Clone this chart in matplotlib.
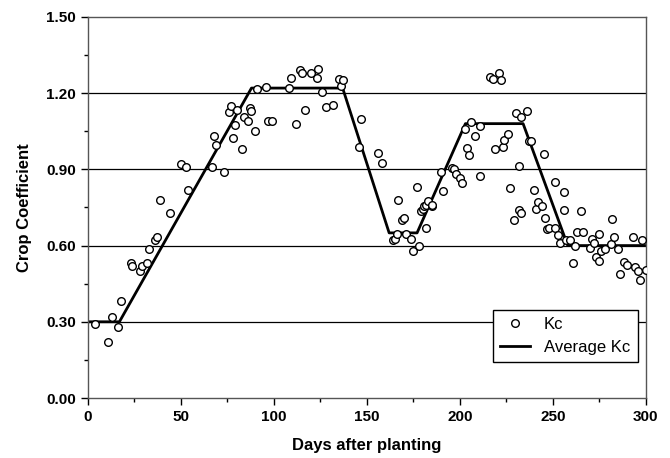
import numpy as np
import matplotlib.pyplot as plt

plt.rcParams['font.family'] = ['Liberation Sans', 'DejaVu Sans']

# ===================== DATA =====================
kc_days = [4, 11, 13, 16, 18, 23, 24, 28, 29, 32, 33, 36, 37, 39, 44,
           50, 53, 54, 67, 68, 69, 73, 76, 77, 78, 79, 80, 83, 84, 86, 87, 88,
           90, 91, 96, 97, 99, 108, 109, 112, 114, 115, 117, 120, 123, 124,
           126, 128, 132, 135, 136, 137, 146, 147, 156, 158, 164, 165, 166,
           167, 169, 170, 171, 174, 175, 177, 178, 179, 180, 181, 182, 182,
           183, 185, 185, 190, 191, 196, 197, 198, 200, 201, 203, 204, 205,
           206, 208, 211, 211, 216, 218, 219, 221, 222, 223, 224, 226, 227,
           229, 230, 232, 232, 233, 233, 236, 237, 238, 240, 241, 242, 244,
           245, 246, 247, 248, 251, 251, 253, 254, 256, 256, 257, 259, 261,
           262, 263, 265, 266, 270, 271, 272, 273, 275, 275, 276, 278, 281,
           282, 283, 285, 286, 288, 290, 293, 294, 296, 297, 298, 300]
kc_values = [0.29, 0.22, 0.32, 0.28, 0.38, 0.53, 0.52, 0.50, 0.52, 0.53,
             0.585, 0.62, 0.635, 0.78, 0.73,
             0.92, 0.91, 0.82, 0.91, 1.03, 0.995, 0.89, 1.125, 1.15, 1.025,
             1.075, 1.135, 0.98, 1.105, 1.09, 1.14, 1.13,
             1.05, 1.215, 1.225, 1.09, 1.09, 1.22, 1.26, 1.08, 1.29, 1.28,
             1.135, 1.28, 1.26, 1.295,
             1.205, 1.145, 1.155, 1.255, 1.23, 1.25, 0.99, 1.10, 0.965, 0.925,
             0.62, 0.625, 0.645, 0.78, 0.70, 0.71, 0.645, 0.625, 0.58, 0.83,
             0.60, 0.735, 0.745, 0.755, 0.76, 0.67,
             0.775, 0.755, 0.76, 0.89, 0.815, 0.905, 0.90, 0.88, 0.865, 0.845,
             1.06, 0.985, 0.955, 1.085, 1.03, 1.07, 0.875, 1.265, 1.255,
             0.98, 1.28, 1.25, 0.99, 1.015, 1.04, 0.825,
             0.70, 1.12, 0.915, 0.74, 1.105, 0.73, 1.13, 1.01, 1.01, 0.82,
             0.745, 0.77, 0.755,
             0.96, 0.71, 0.665, 0.67, 0.85, 0.67, 0.64, 0.61, 0.81, 0.74,
             0.62, 0.62, 0.53, 0.60, 0.655, 0.735, 0.655, 0.59, 0.625, 0.61,
             0.555, 0.645, 0.54, 0.58, 0.585, 0.605, 0.705, 0.635, 0.585,
             0.49, 0.535, 0.525, 0.635, 0.515, 0.50, 0.465, 0.62, 0.505]

avg_days = [0, 17, 88, 137, 162, 177, 203, 234, 258, 300]
avg_kc = [0.30, 0.30, 1.22, 1.22, 0.65, 0.65, 1.08, 1.08, 0.60, 0.60]

y_gridlines = [0.30, 0.60, 0.90, 1.20]

# ===================== PLOT =====================
fig = plt.figure(figsize=(6.70, 4.58), dpi=100)
ax = fig.add_axes([0.131, 0.131, 0.833, 0.832])

for g in y_gridlines:
    ax.axhline(g, color="black", linewidth=0.9, zorder=1)

ax.plot(avg_days, avg_kc, color="black", linewidth=2.0, label="Average Kc", zorder=2)
ax.plot(kc_days, kc_values, linestyle="none", marker="o", markersize=5.5,
        markerfacecolor="white", markeredgecolor="black", markeredgewidth=1.0,
        label="Kc", zorder=3)

ax.set_xlim(0, 300)
ax.set_ylim(0, 1.5)
ax.set_xticks(np.arange(0, 301, 50))
ax.set_xticks(np.arange(0, 301, 25), minor=True)
ax.set_yticks(np.arange(0, 1.51, 0.30))
ax.set_yticks(np.arange(0, 1.51, 0.15), minor=True)
ax.set_yticklabels([f"{v:.2f}" for v in np.arange(0, 1.51, 0.30)])

ax.tick_params(axis="both", which="major", direction="out", length=5, width=1,
               labelsize=11, colors="black")
ax.tick_params(axis="both", which="minor", direction="out", length=3, width=1)
for lbl in ax.get_xticklabels() + ax.get_yticklabels():
    lbl.set_fontweight("bold")

for sp in ax.spines.values():
    sp.set_color("#555555")
    sp.set_linewidth(1.0)

ax.set_xlabel("Days after planting", fontsize=12, fontweight="bold", labelpad=10)
ax.set_ylabel("Crop Coefficient", fontsize=12, fontweight="bold", labelpad=10)

# Kc first, then Average Kc
handles, labels = ax.get_legend_handles_labels()
leg = ax.legend(handles[::-1], labels[::-1], loc="lower right",
                bbox_to_anchor=(1.0, 0.072), fontsize=12, frameon=True,
                fancybox=False, edgecolor="black", framealpha=1,
                handlelength=1.8, borderpad=0.45, labelspacing=0.45)
leg.get_frame().set_linewidth(1.0)

fig.savefig("out.png", dpi=100)
